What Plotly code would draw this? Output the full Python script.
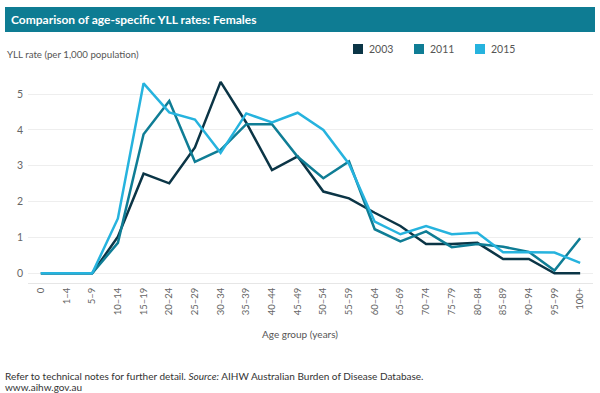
import plotly.graph_objects as go

age_groups = ["0", "1–4", "5–9", "10–14", "15–19", "20–24", "25–29", "30–34", "35–39",
              "40–44", "45–49", "50–54", "55–59", "60–64", "65–69", "70–74", "75–79",
              "80–84", "85–89", "90–94", "95–99", "100+"]

yll_2003 = [0, 0, 0, 1.02, 2.78, 2.51, 3.51, 5.34, 4.2, 2.88, 3.26, 2.28, 2.09, 1.69,
            1.32, 0.82, 0.82, 0.85, 0.40, 0.40, 0.0, 0.0]
yll_2011 = [0, 0, 0, 0.85, 3.88, 4.81, 3.11, 3.44, 4.16, 4.16, 3.25, 2.65, 3.12, 1.23,
            0.89, 1.17, 0.73, 0.82, 0.74, 0.60, 0.08, 0.98]
yll_2015 = [0, 0, 0, 1.53, 5.30, 4.49, 4.29, 3.36, 4.46, 4.21, 4.48, 4.0, 3.05, 1.44,
            1.09, 1.32, 1.09, 1.13, 0.59, 0.59, 0.58, 0.29]

series_names = ["2003", "2011", "2015"]
series_values = [yll_2003, yll_2011, yll_2015]
series_colors = ["#0b3546", "#0f7d95", "#26b3de"]

FONT = "Lato"

# plot-area geometry (pixels)
L, R, T, B = 28, 7, 74, 110
W, H = 600 - L - R, 393 - T - B
PB = 393 - B  # plot bottom pixel


def px(x):
    return (x - L) / W


def py(y):
    return (PB - y) / H


fig = go.Figure()
for name, vals, col in zip(series_names, series_values, series_colors):
    fig.add_trace(go.Scatter(x=age_groups, y=vals, mode="lines", name=name,
                             line=dict(color=col, width=2.5), showlegend=False))

shapes = [
    dict(type="rect", xref="paper", yref="paper", x0=px(5), x1=px(595), y0=py(32), y1=py(7),
         fillcolor="#0e7c93", line=dict(width=0), layer="above"),
]
annotations = [
    dict(text="<b>Comparison of age-specific YLL rates: Females</b>", xref="paper", yref="paper",
         x=px(9), y=py(19.5), xanchor="left", yanchor="middle", showarrow=False,
         font=dict(family=FONT, size=12, color="white")),
    dict(text="YLL rate (per 1,000 population)", xref="paper", yref="paper",
         x=px(5), y=py(54), xanchor="left", yanchor="middle", showarrow=False,
         font=dict(family=FONT, size=9.7, color="#555555")),
    dict(text="Age group (years)", xref="paper", yref="paper",
         x=px(300), y=py(334), xanchor="center", yanchor="middle", showarrow=False,
         font=dict(family=FONT, size=10, color="#555555")),
    dict(text="Refer to technical notes for further detail. <i>Source:</i> AIHW Australian Burden of Disease Database.",
         xref="paper", yref="paper", x=px(3), y=py(375.5), xanchor="left", yanchor="middle",
         showarrow=False, font=dict(family=FONT, size=10, color="#333333")),
    dict(text="www.aihw.gov.au", xref="paper", yref="paper", x=px(3), y=py(387),
         xanchor="left", yanchor="middle", showarrow=False,
         font=dict(family=FONT, size=10, color="#333333")),
]

legend_x = [358, 419, 480]
for lx, name, col in zip(legend_x, series_names, series_colors):
    shapes.append(dict(type="rect", xref="paper", yref="paper",
                       x0=px(lx - 5), x1=px(lx + 5), y0=py(54), y1=py(44),
                       fillcolor=col, line=dict(width=0)))
    annotations.append(dict(text=name, xref="paper", yref="paper", x=px(lx + 9), y=py(49),
                            xanchor="left", yanchor="middle", showarrow=False,
                            font=dict(family=FONT, size=10.5, color="#555555")))

fig.update_layout(
    width=600, height=393,
    margin=dict(l=L, r=R, t=T, b=B),
    paper_bgcolor="white", plot_bgcolor="white",
    showlegend=False,
    shapes=shapes, annotations=annotations,
    font=dict(family=FONT, color="#666666"),
    xaxis=dict(type="category", range=[-0.5, len(age_groups) - 0.5], tickangle=-90,
               showgrid=False, showline=True, linecolor="#e6e6e6", linewidth=1,
               tickfont=dict(family=FONT, size=9.5, color="#666666"), ticks="",
               fixedrange=True),
    yaxis=dict(range=[-0.27, 5.56], tickvals=[0, 1, 2, 3, 4, 5], showgrid=True,
               gridcolor="#eeeeee", gridwidth=1, zeroline=False, showline=False,
               tickfont=dict(family=FONT, size=10.5, color="#666666"), ticks="",
               ticklabelstandoff=4, fixedrange=True),
)

fig.write_html("out.html", config={"displayModeBar": False},
               post_script="document.body.style.margin='0';document.body.style.overflow='hidden';")
